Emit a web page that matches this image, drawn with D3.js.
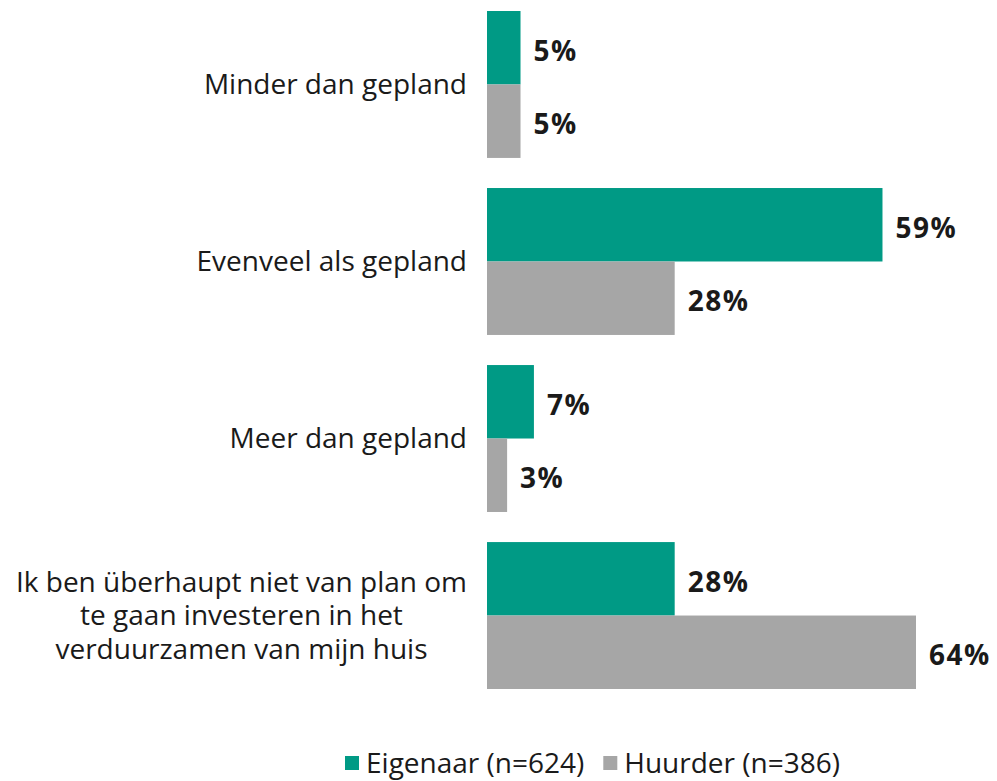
<!DOCTYPE html>
<html>
<head>
<meta charset="utf-8">
<script src="https://cdn.jsdelivr.net/npm/d3@7"></script>
<style>
  body { margin: 0; background: #fff; }
  svg text { font-family: "Open Sans", sans-serif; fill: #1a1a1a; }
</style>
</head>
<body>
<div id="chart"></div>
<script>
// categories (each entry is the wrapped lines of the label)
var categories = ["Minder dan gepland", "Evenveel als gepland", "Meer dan gepland", "Ik ben überhaupt niet van plan om"];
var categoryLines = [
	["Minder dan gepland"],
	["Evenveel als gepland"],
	["Meer dan gepland"],
	["Ik ben überhaupt niet van plan om", "te gaan investeren in het", "verduurzamen van mijn huis"]
];
var seriesNames = ["Eigenaar (n=624)", "Huurder (n=386)"];
var seriesColors = ["#009a85", "#a6a6a6"];
var eigenaar = [5, 59, 7, 28];
var huurder = [5, 28, 3, 64];

var width = 997, height = 781;
var svg = d3.select("#chart").append("svg")
	.attr("width", width)
	.attr("height", height);

var x = d3.scaleLinear().domain([0, 64]).range([487, 916]);

var y = d3.scaleBand()
	.domain(categories)
	.range([11, 689])
	.paddingInner(0.17)
	.paddingOuter(0);

var ySub = d3.scaleBand()
	.domain(seriesNames)
	.range([0, y.bandwidth()]);

var rows = categories.map(function(c, i) {
	return { cat: c, lines: categoryLines[i], vals: [
		{ name: seriesNames[0], v: eigenaar[i], color: seriesColors[0] },
		{ name: seriesNames[1], v: huurder[i], color: seriesColors[1] }
	]};
});

var group = svg.selectAll(".group")
	.data(rows)
	.enter().append("g")
	.attr("class", "group")
	.attr("transform", function(d) { return "translate(0," + y(d.cat) + ")"; });

group.selectAll("rect")
	.data(function(d) { return d.vals; })
	.enter().append("rect")
	.attr("x", x(0))
	.attr("y", function(d) { return ySub(d.name); })
	.attr("width", function(d) { return x(d.v) - x(0); })
	.attr("height", ySub.bandwidth())
	.style("fill", function(d) { return d.color; });

group.selectAll(".val")
	.data(function(d) { return d.vals; })
	.enter().append("text")
	.attr("class", "val")
	.attr("x", function(d) { return x(d.v) + 13; })
	.attr("y", function(d) { return ySub(d.name) + ySub.bandwidth() / 2 + 3; })
	.attr("dy", "0.35em")
	.style("font-size", "28px")
	.style("font-weight", "bold")
	.style("letter-spacing", "1.5px")
	.text(function(d) { return d.v + "%"; });

// category labels, multi-line ones centred in a block that ends at the axis
var lineH = 33.5;
group.each(function(d) {
	var g = d3.select(this);
	var t = g.append("text")
		.attr("class", "cat")
		.style("font-size", "28px");
	var n = d.lines.length;
	d.lines.forEach(function(l, i) {
		t.append("tspan")
			.attr("y", y.bandwidth() / 2 + (i - (n - 1) / 2) * lineH)
			.attr("dy", "0.35em")
			.text(l);
	});
	var maxW = 0;
	t.selectAll("tspan").each(function() { maxW = Math.max(maxW, this.getComputedTextLength()); });
	t.attr("text-anchor", "middle");
	t.selectAll("tspan").attr("x", 467 - maxW / 2);
});

// legend
var legend = svg.append("g").attr("class", "legend");
var lx = 345;
seriesNames.forEach(function(s, i) {
	var item = legend.append("g").attr("transform", "translate(" + lx + ",0)");
	item.append("rect")
		.attr("x", 0).attr("y", 756)
		.attr("width", 14).attr("height", 14)
		.style("fill", seriesColors[i]);
	var t = item.append("text")
		.attr("x", 21).attr("y", 773)
		.style("font-size", "28px")
		.text(s);
	lx += 21 + t.node().getComputedTextLength() + 19;
});
</script>
</body>
</html>
